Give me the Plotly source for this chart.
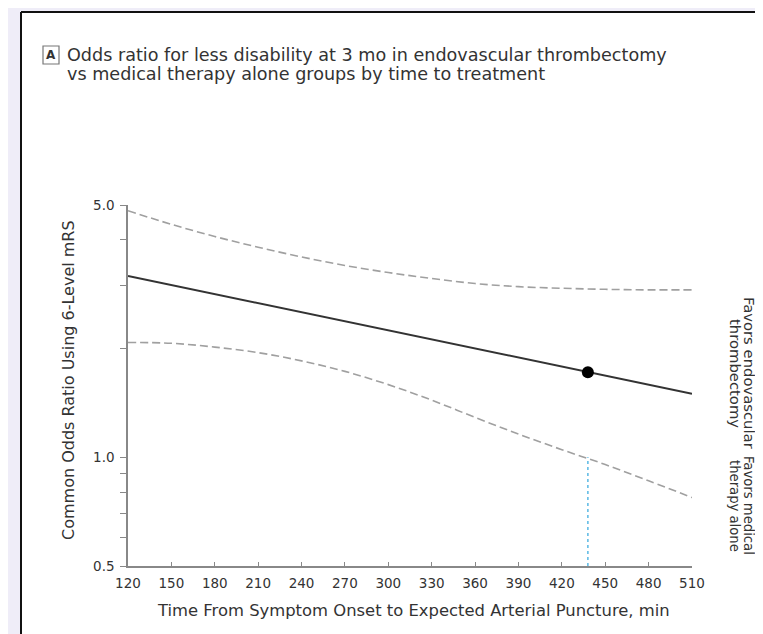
import plotly.graph_objects as go

# ---- data ----
time_min = [120, 150, 180, 210, 240, 270, 300, 330, 360, 390, 420, 450, 480, 510]
upper_ci = [4.82, 4.42, 4.09, 3.82, 3.59, 3.40, 3.25, 3.13, 3.03, 2.97, 2.94, 2.92, 2.91, 2.91]
lower_ci = [2.08, 2.07, 2.02, 1.95, 1.85, 1.73, 1.59, 1.44, 1.29, 1.16, 1.05, 0.955, 0.861, 0.774]
est_time = [120, 510]
est_or = [3.18, 1.50]
loss_time = 438          # time at which lower CI crosses 1.0
loss_or = 1.72           # estimate at that time
ref_or = 1.0
y_axis_min = 0.5

y_tickvals = [0.5, 0.6, 0.7, 0.8, 0.9, 1.0, 2, 3, 4, 5.0]
y_ticktext = ["0.5", "", "", "", "", "1.0", "", "", "", "5.0"]
x_tickvals = list(range(120, 511, 30))

title_lines = ["Odds ratio for less disability at 3 mo in endovascular thrombectomy",
               "vs medical therapy alone groups by time to treatment"]
x_title = "Time From Symptom Onset to Expected Arterial Puncture, min"
y_title = "Common Odds Ratio Using 6-Level mRS"
favor_top = ["Favors endovascular", "thrombectomy"]
favor_bottom = ["Favors medical", "therapy alone"]

FONT = "DejaVu Sans, sans-serif"
TXT = "#333333"

# pixel geometry of the plot area
W, H = 763, 634
L, R, T, B = 120, 79, 197, 76
PW, PH = W - L - R, H - T - B


def px(xp):
    return (xp - L) / PW


def py(yp):
    return (H - B - yp) / PH


fig = go.Figure()

fig.add_trace(go.Scatter(x=time_min, y=upper_ci, mode="lines", line_shape="spline",
                         line=dict(color="#a0a0a0", width=1.6, dash="8px,4px"),
                         hoverinfo="skip", showlegend=False))
fig.add_trace(go.Scatter(x=time_min, y=lower_ci, mode="lines", line_shape="spline",
                         line=dict(color="#a0a0a0", width=1.6, dash="8px,4px"),
                         hoverinfo="skip", showlegend=False))
fig.add_trace(go.Scatter(x=[loss_time, loss_time], y=[y_axis_min, ref_or], mode="lines",
                         line=dict(color="#5ab8e4", width=1.5, dash="dot"),
                         hoverinfo="skip", showlegend=False))
fig.add_trace(go.Scatter(x=est_time, y=est_or, mode="lines",
                         line=dict(color="#333333", width=2),
                         hoverinfo="skip", showlegend=False))
fig.add_trace(go.Scatter(x=[loss_time], y=[loss_or], mode="markers",
                         marker=dict(color="black", size=12),
                         hoverinfo="skip", showlegend=False))

# outer frame: white panel on lavender background, black left/top edges
fig.add_shape(type="rect", xref="paper", yref="paper",
              x0=px(13), x1=px(760), y0=py(640), y1=py(4),
              fillcolor="white", line=dict(width=0), layer="below")
fig.add_shape(type="line", xref="paper", yref="paper",
              x0=px(13), x1=px(760), y0=py(4), y1=py(4),
              line=dict(color="#111111", width=2))
fig.add_shape(type="line", xref="paper", yref="paper",
              x0=px(13), x1=px(13), y0=py(640), y1=py(4),
              line=dict(color="#111111", width=2))
# reference line at OR = 1 (log axis -> log10 units)
fig.add_shape(type="line", xref="paper", yref="y", x0=0, x1=px(713), y0=0, y1=0,
              line=dict(color="#e6e6e6", width=2.5), layer="below")
# panel letter box
fig.add_shape(type="rect", xref="paper", yref="paper",
              x0=px(35), x1=px(51), y0=py(56), y1=py(38),
              line=dict(color="#777777", width=1.2), fillcolor="white")

fig.add_annotation(x=px(43), y=py(47), xref="paper", yref="paper", text="<b>A</b>",
                   showarrow=False, font=dict(family=FONT, size=12, color=TXT),
                   xanchor="center", yanchor="middle")
for i, line in enumerate(title_lines):
    fig.add_annotation(x=px(57), y=py(47 + 19 * i), xref="paper", yref="paper",
                       text=line, showarrow=False, xanchor="left", yanchor="middle",
                       font=dict(family=FONT, size=17.6, color=TXT))

for block, yc, fs, x1 in ((favor_top, 365, 14.8, 742), (favor_bottom, 498, 13.2, 741)):
    for i, line in enumerate(block):
        fig.add_annotation(x=px(x1 - 14 * i), y=py(yc), xref="paper", yref="paper",
                           text=line, textangle=90, showarrow=False,
                           xanchor="center", yanchor="middle",
                           font=dict(family=FONT, size=fs, color=TXT))

fig.add_annotation(x=px(405), y=py(602), xref="paper", yref="paper", text=x_title,
                   showarrow=False, xanchor="center", yanchor="middle",
                   font=dict(family=FONT, size=16.4, color=TXT))
fig.add_annotation(x=px(60), y=py(372), xref="paper", yref="paper", text=y_title,
                   textangle=-90, showarrow=False, xanchor="center", yanchor="middle",
                   font=dict(family=FONT, size=16, color=TXT))

fig.update_layout(
    width=W, height=H,
    margin=dict(l=L, r=R, t=T, b=B),
    paper_bgcolor="#efedf8", plot_bgcolor="white",
    font=dict(family=FONT, size=13.5, color=TXT),
    showlegend=False,
)
fig.update_xaxes(range=[120, 510], tickvals=x_tickvals, ticks="inside", ticklen=4,
                 tickcolor="#888888", showline=True, linecolor="#888888", linewidth=1.5,
                 showgrid=False, zeroline=False, ticklabelstandoff=4,
                 tickfont=dict(size=13.5, color=TXT))
fig.update_yaxes(type="log", range=[-0.30103, 0.69897], tickvals=y_tickvals, ticktext=y_ticktext,
                 ticks="outside", ticklen=6, tickcolor="#888888", showline=True,
                 linecolor="#888888", linewidth=1.5, showgrid=False, zeroline=False,
                 ticklabelstandoff=3, tickfont=dict(size=13.5, color=TXT))

fig.write_html("out.html")
